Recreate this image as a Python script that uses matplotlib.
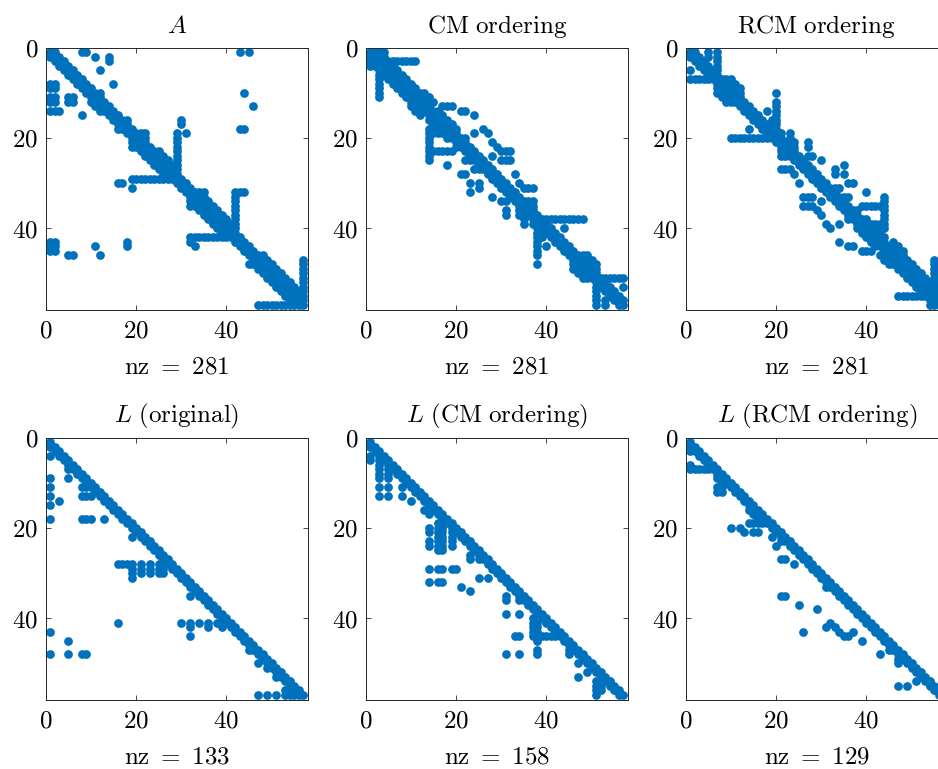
import matplotlib
matplotlib.use('Agg')
import matplotlib.pyplot as plt
from matplotlib.ticker import FixedLocator, FixedFormatter

N = 57

# Row-wise sparsity patterns (1-based column indices of nonzeros, row k = list k-1)
A_pattern = [
    [1, 2, 8, 9, 43, 45],
    [1, 2, 3, 11, 14],
    [2, 3, 4, 14],
    [3, 4, 5],
    [4, 5, 6, 12],
    [5, 6, 7],
    [6, 7, 8],
    [1, 2, 7, 8, 9, 15],
    [1, 2, 8, 9, 10],
    [9, 10, 11, 12, 44],
    [1, 2, 5, 6, 10, 11, 12],
    [1, 2, 5, 6, 10, 11, 12, 13],
    [11, 12, 13, 14, 46],
    [1, 2, 3, 12, 13, 14, 15],
    [8, 14, 15, 16],
    [15, 16, 17, 18, 30],
    [16, 17, 18, 30],
    [16, 17, 18, 19, 43, 44],
    [18, 19, 20, 21, 22, 29, 31],
    [19, 20, 21, 22, 29],
    [19, 20, 21, 22, 29],
    [19, 20, 21, 22, 23, 29],
    [21, 22, 23, 24, 25, 29],
    [22, 23, 24, 25, 26, 29],
    [23, 24, 25, 26, 27, 29],
    [24, 25, 26, 27, 28, 29],
    [25, 26, 27, 28, 29],
    [26, 27, 28, 29],
    [19, 20, 21, 22, 23, 24, 25, 26, 27, 28, 29, 30],
    [16, 17, 29, 30, 31],
    [19, 30, 31, 32],
    [31, 32, 33, 34, 35, 42, 43, 44],
    [32, 33, 34, 35, 42],
    [32, 33, 34, 35, 36, 42],
    [32, 33, 34, 35, 36, 37, 42],
    [34, 35, 36, 37, 38, 42],
    [35, 36, 37, 38, 39, 42],
    [36, 37, 38, 39, 40, 42],
    [37, 38, 39, 40, 41, 42],
    [38, 39, 40, 41, 42],
    [39, 40, 41, 42],
    [32, 33, 34, 35, 36, 37, 38, 39, 40, 41, 42, 43],
    [1, 2, 18, 32, 42, 43, 44],
    [1, 2, 11, 18, 33, 43, 44, 45],
    [1, 2, 44, 45, 46],
    [5, 6, 12, 45, 46, 47, 48],
    [46, 47, 48, 49, 57],
    [45, 46, 47, 48, 49, 50, 57],
    [47, 48, 49, 50, 51, 57],
    [48, 49, 50, 51, 52, 57],
    [49, 50, 51, 52, 53, 57],
    [50, 51, 52, 53, 54, 57],
    [51, 52, 53, 54, 55, 57],
    [52, 53, 54, 55, 56, 57],
    [53, 54, 55, 56, 57],
    [54, 55, 56, 57],
    [47, 48, 49, 50, 51, 52, 53, 54, 55, 56, 57],
]

CM_pattern = [
    [1, 2, 3, 4],
    [1, 2, 3, 4],
    [1, 2, 3, 4, 5, 6, 7, 8, 9, 10, 11],
    [1, 2, 3, 4, 5, 6],
    [3, 4, 5, 6, 7],
    [3, 4, 5, 6, 7, 8],
    [3, 5, 6, 7, 8, 9],
    [3, 6, 7, 8, 9, 10],
    [3, 7, 8, 9, 10, 11],
    [3, 8, 9, 10, 11, 12, 13],
    [3, 9, 10, 11, 12, 13, 14],
    [10, 11, 12, 13, 14, 15],
    [10, 11, 12, 13, 14, 17, 18, 19],
    [11, 12, 13, 14, 15, 16, 21, 22],
    [12, 14, 15, 16, 17, 24],
    [14, 15, 16, 17, 18],
    [15, 16, 17, 18, 19],
    [14, 16, 17, 18, 19, 20, 26],
    [14, 15, 16, 17, 18, 19, 20, 24, 27],
    [14, 18, 19, 20, 21, 22],
    [14, 20, 21, 22, 28],
    [14, 20, 21, 22, 23, 29],
    [14, 15, 16, 17, 18, 19, 22, 23, 24, 30, 31, 32],
    [14, 23, 24, 25, 28],
    [14, 22, 23, 24, 25, 26, 30, 31, 32],
    [18, 25, 26, 27],
    [24, 25, 26, 27, 28],
    [21, 22, 27, 28, 29, 33],
    [28, 29, 30],
    [23, 25, 29, 30, 31, 34],
    [25, 30, 31, 32, 35, 36, 37],
    [23, 31, 32, 33],
    [28, 32, 33, 34],
    [30, 31, 33, 34, 35, 36, 37],
    [34, 35, 36, 37],
    [31, 34, 35, 36, 37],
    [31, 34, 35, 36, 37, 38],
    [35, 37, 38, 39, 40, 41, 42, 43, 44, 45, 46, 47, 48],
    [35, 37, 38, 39, 40],
    [38, 39, 40, 41, 44],
    [38, 39, 40, 41, 42],
    [38, 39, 41, 42, 43],
    [38, 42, 43, 44],
    [38, 40, 43, 44, 45],
    [38, 44, 45, 46],
    [38, 45, 46, 47, 48, 49],
    [46, 47, 48, 49, 50],
    [38, 46, 47, 48, 49, 50, 51],
    [46, 47, 48, 49, 50, 51],
    [47, 48, 49, 50, 51],
    [48, 49, 50, 51, 52, 53, 54, 55, 56, 57],
    [51, 52, 53],
    [51, 52, 53, 54, 57],
    [51, 53, 54, 55],
    [51, 54, 55, 56],
    [51, 53, 55, 56, 57],
    [51, 53, 56, 57],
]

L_orig_pattern = [
    [1], [1, 2], [2, 3], [1, 3, 4], [4, 5], [5, 6], [5, 6, 7], [7, 8],
    [1, 5, 8, 9], [9, 10], [1, 8, 9, 10, 11], [11, 12], [1, 8, 9, 10, 12, 13],
    [3, 13, 14], [1, 14, 15], [15, 16], [16, 17], [1, 8, 9, 10, 13, 17, 18],
    [18, 19], [19, 20], [20, 21], [19, 21, 22], [22, 23], [23, 24], [24, 25],
    [25, 26], [26, 27], [16, 17, 18, 19, 21, 23, 25, 26, 27, 28],
    [19, 21, 23, 25, 26, 28, 29], [19, 21, 23, 25, 26, 29, 30], [19, 30, 31],
    [31, 32], [32, 33], [33, 34], [32, 34, 35], [35, 36], [36, 37], [37, 38],
    [38, 39], [39, 40], [16, 30, 32, 34, 36, 38, 39, 40, 41],
    [32, 36, 39, 41, 42], [1, 42, 43], [32, 43, 44], [5, 44, 45], [45, 46],
    [45, 46, 47], [1, 5, 8, 9, 47, 48], [48, 49], [47, 49, 50], [49, 50, 51],
    [51, 52], [51, 52, 53], [53, 54], [54, 55], [53, 55, 56],
    [47, 49, 51, 53, 54, 55, 56, 57],
]

L_cm_pattern = [
    [1], [1, 2], [2, 3], [1, 3, 4], [1, 3, 4, 5], [3, 5, 6], [3, 5, 6, 7],
    [3, 5, 7, 8], [3, 5, 8, 9], [9, 10], [3, 5, 8, 10, 11], [11, 12],
    [3, 5, 8, 12, 13], [10, 13, 14], [14, 15], [13, 15, 16], [14, 16, 17],
    [17, 18], [16, 17, 18, 19], [14, 16, 17, 19, 20], [14, 16, 17, 19, 20, 21],
    [16, 17, 19, 21, 22], [14, 16, 17, 19, 22, 23], [14, 16, 17, 19, 23, 24],
    [16, 17, 24, 25], [23, 25, 26], [23, 25, 26, 27], [27, 28],
    [14, 16, 17, 19, 20, 28, 29], [29, 30], [25, 27, 30, 31],
    [14, 16, 17, 31, 32], [21, 32, 33], [23, 33, 34], [31, 34, 35],
    [31, 34, 35, 36], [36, 37], [37, 38], [31, 34, 38, 39], [37, 39, 40],
    [37, 38, 40, 41], [37, 38, 41, 42], [37, 38, 42, 43],
    [33, 34, 37, 38, 39, 40, 41, 42, 43, 44], [38, 44, 45], [45, 46],
    [38, 45, 46, 47], [31, 34, 38, 45, 47, 48], [48, 49], [47, 49, 50],
    [50, 51], [49, 51, 52], [47, 52, 53], [51, 53, 54], [51, 52, 54, 55],
    [51, 52, 55, 56], [51, 56, 57],
]

L_rcm_pattern = [
    [1], [1, 2], [1, 2, 3], [3, 4], [4, 5], [1, 5, 6], [1, 2, 3, 4, 5, 6, 7],
    [7, 8], [7, 8, 9], [8, 9, 10], [7, 8, 10, 11], [7, 8, 11, 12], [12, 13],
    [13, 14], [14, 15], [14, 15, 16], [15, 16, 17], [16, 17, 18],
    [14, 15, 16, 17, 18, 19], [10, 12, 19, 20], [13, 15, 16, 20, 21],
    [19, 21, 22], [21, 22, 23], [20, 23, 24], [24, 25], [25, 26],
    [21, 22, 26, 27], [24, 27, 28], [28, 29], [29, 30], [30, 31], [31, 32],
    [31, 32, 33], [33, 34], [21, 22, 34, 35], [35, 36], [25, 36, 37],
    [29, 37, 38], [38, 39], [39, 40], [32, 40, 41], [31, 33, 41, 42],
    [26, 34, 37, 42, 43], [35, 36, 43, 44], [39, 44, 45], [45, 46],
    [45, 46, 47], [43, 47, 48], [47, 48, 49], [47, 49, 50], [50, 51],
    [51, 52], [52, 53], [51, 53, 54], [47, 49, 54, 55], [55, 56], [56, 57],
]

nz_labels = [281, 281, 281, 133, 158, 129]
titles = [r'$A$', r'$\mathrm{CM\ ordering}$', r'$\mathrm{RCM\ ordering}$',
          r'$L\ \mathrm{(original)}$', r'$L\ \mathrm{(CM\ ordering)}$',
          r'$L\ \mathrm{(RCM\ ordering)}$']
tick_vals = [0, 20, 40]


def to_points(pattern):
    rows, cols = [], []
    for i, cs in enumerate(pattern):
        for c in cs:
            rows.append(i + 1)
            cols.append(c)
    return rows, cols


def reversed_pattern(pattern):
    # reverse ordering of the CM pattern gives the RCM pattern
    n = len(pattern)
    out = [[] for _ in range(n)]
    for i, cs in enumerate(pattern):
        for c in cs:
            out[n - 1 - i].append(n + 1 - c)
    return out


RCM_pattern = reversed_pattern(CM_pattern)
patterns = [A_pattern, CM_pattern, RCM_pattern,
            L_orig_pattern, L_cm_pattern, L_rcm_pattern]

plt.rcParams['mathtext.fontset'] = 'cm'
plt.rcParams['font.family'] = 'DejaVu Serif'

W, H = 938, 769
fig = plt.figure(figsize=(W / 100, H / 100), dpi=100)
color = (0.0, 0.4470, 0.7410)

lefts = [45.7, 365.7, 685.7]
tops = [47.5, 437.5]
size = 262.0
FS = 18

for k, pat in enumerate(patterns):
    r, c = divmod(k, 3)
    x0 = lefts[c]
    y0 = tops[r]
    ax = fig.add_axes([x0 / W, 1 - (y0 + size) / H, size / W, size / H])
    rows, cols = to_points(pat)
    ax.plot(cols, rows, linestyle='none', marker='o', markersize=6.3,
            markeredgewidth=0, color=color)
    ax.set_xlim(0, N + 1)
    ax.set_ylim(N + 1, 0)
    ax.xaxis.set_major_locator(FixedLocator(tick_vals))
    ax.yaxis.set_major_locator(FixedLocator(tick_vals))
    ax.xaxis.set_major_formatter(FixedFormatter([r'$%d$' % v for v in tick_vals]))
    ax.yaxis.set_major_formatter(FixedFormatter([r'$%d$' % v for v in tick_vals]))
    ax.tick_params(direction='in', top=True, right=True, length=3.5,
                   width=0.6, color='#262626', labelsize=FS)
    ax.tick_params(axis='x', pad=7.5)
    ax.tick_params(axis='y', pad=5.5)
    for s in ax.spines.values():
        s.set_color('#262626')
        s.set_linewidth(0.7)
    ax.set_title(titles[k], fontsize=FS, pad=10.5)
    ax.set_xlabel(r'$\mathrm{nz\ =\ %d}$' % nz_labels[k], fontsize=FS,
                  labelpad=9)

fig.savefig('out.png', dpi=100)
